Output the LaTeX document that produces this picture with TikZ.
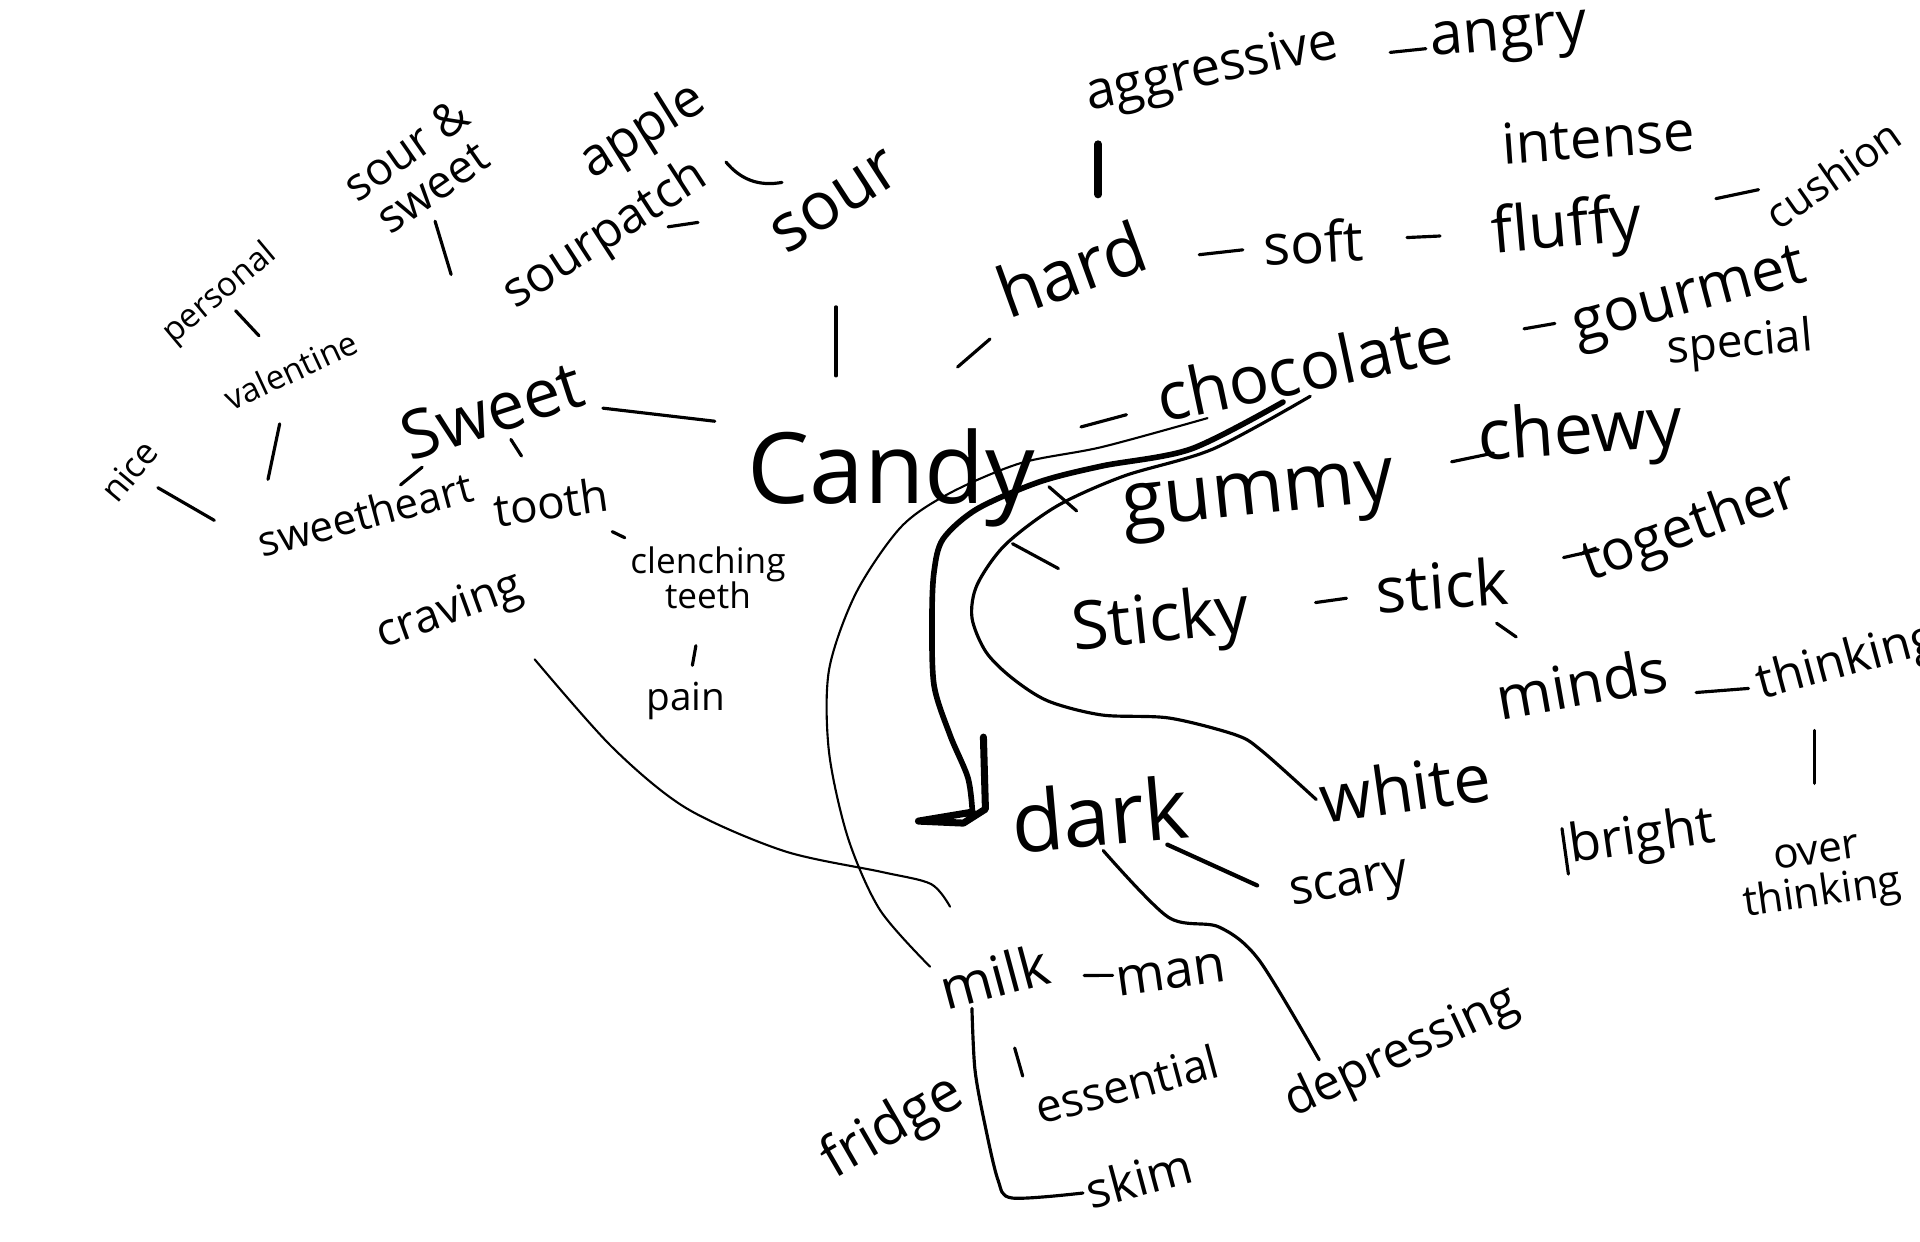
\documentclass[tikz,border=0pt]{standalone}
\usepackage{fontspec}
\setmainfont{Open Sans}
\usetikzlibrary{calc}
\tikzset{
  word/.style={font=\fontsize{#1}{#1}\selectfont, inner sep=1pt, align=center},
  word/.default=14pt,
  link/.style={line width=0.9pt, line cap=round, line join=round},
  thin link/.style={line width=0.6pt, line cap=round, line join=round},
  heavy/.style={line width=2pt, line cap=round, line join=round}
}

\begin{document}
\begin{tikzpicture}[x=0.01cm, y=-0.01cm]
  \fill[white] (0,0) rectangle (1920,1242);
  \useasboundingbox (0,0) rectangle (1920,1242);

  % centre word
  \node[word=28pt] (candy) at (891,478) {Candy};

  % sweet branch
  \node[word=19pt, rotate=18] (sweet) at (492,410) {Sweet};
  \node[word=12pt, rotate=15] (sweetheart) at (365,514) {sweetheart};
  \node[word=13pt, rotate=8] (tooth) at (551,502) {tooth};
  \node[word=10pt, rotate=50] (nice) at (129,471) {nice};
  \node[word=9.5pt, rotate=25] (valentine) at (291,370) {valentine};
  \node[word=9.5pt, rotate=40] (personal) at (220,294) {personal};
  \node[word=13pt, rotate=35] (soursweet) at (419,168) {sour \&\\sweet};
  \node[word=13pt, rotate=20] (craving) at (450,612) {craving};
  \node[word=10pt] (clenching) at (708,578) {clenching\\teeth};
  \node[word=11pt] (pain) at (686,701) {pain};

  % sour branch
  \node[word=15pt, rotate=32] (apple) at (643,132) {apple};
  \node[word=14pt, rotate=33] (sourpatch) at (606,236) {sourpatch};
  \node[word=19pt, rotate=33] (sour) at (836,202) {sour};

  % texture branch
  \node[word=20pt, rotate=20] (hard) at (1071,269) {hard};
  \node[word=16pt, rotate=3] (soft) at (1313,242) {soft};
  \node[word=18pt, rotate=5] (fluffy) at (1567,230) {fluffy};
  \node[word=12pt, rotate=35] (cushion) at (1833,174) {cushion};
  \node[word=15pt, rotate=12] (aggressive) at (1212,71) {aggressive};
  \node[word=17pt, rotate=5] (angry) at (1509,40) {angry};
  \node[word=16pt, rotate=4] (intense) at (1598,137) {intense};

  % chocolate branch
  \node[word=19pt, rotate=12] (chocolate) at (1304,367) {chocolate};
  \node[word=17pt, rotate=15] (gourmet) at (1690,300) {gourmet};
  \node[word=13pt, rotate=5] (special) at (1740,345) {special};
  \node[word=24pt, rotate=5] (dark) at (1100,814) {dark};
  \node[word=19pt, rotate=8] (white) at (1405,787) {white};
  \node[word=16pt, rotate=15] (milk) at (994,976) {milk};
  \node[word=14pt, rotate=10] (scary) at (1350,888) {scary};
  \node[word=14pt, rotate=25] (depressing) at (1402,1053) {depressing};
  \node[word=15pt, rotate=8] (man) at (1171,975) {man};
  \node[word=16pt, rotate=30] (fridge) at (893,1128) {fridge};
  \node[word=13pt, rotate=15] (essential) at (1127,1084) {essential};
  \node[word=14pt, rotate=15] (skim) at (1139,1178) {skim};

  % gummy branch
  \node[word=22pt, rotate=6] (gummy) at (1259,502) {gummy};
  \node[word=20pt, rotate=4] (chewy) at (1580,435) {chewy};
  \node[word=19pt, rotate=6] (sticky) at (1161,624) {Sticky};
  \node[word=18pt, rotate=4] (stick) at (1442,585) {stick};
  \node[word=16pt, rotate=20] (together) at (1690,529) {together};
  \node[word=17pt, rotate=10] (minds) at (1582,683) {minds};
  \node[word=14pt, rotate=15, anchor=west] (thinking) at (1754,688) {thinking};
  \node[word=12pt, rotate=8] (overthinking) at (1820,878) {over\\thinking};
  \node[word=15pt, rotate=8] (bright) at (1642,839) {bright};

  \foreach \a/\b/\p/\q in {
      candy.north west/sweet.south east/0.19/0.94,
      sweet/sweetheart/0.55/0.72,
      sweet/tooth/0.32/0.50,
      valentine/sweetheart.west/0.31/0.63,
      sweetheart.west/nice/0.32/0.77,
      valentine/personal/0.45/0.78,
      soursweet/sweet/0.22/0.44,
      tooth/clenching/0.39/0.47,
      clenching/pain/0.55/0.71,
      sour/sourpatch/0.60/0.73,
      candy.north/hard/0.37/0.55,
      hard/soft/0.53/0.71,
      soft/fluffy/0.37/0.50,
      fluffy/cushion/0.56/0.72,
      aggressive/angry/0.60/0.72,
      candy/chocolate/0.46/0.57,
      chocolate/gourmet/0.57/0.65,
      candy.east/gummy.south west/0.12/0.45,
      gummy/chewy/0.60/0.73,
      candy/sticky/0.45/0.62,
      sticky/stick/0.55/0.66,
      stick/together/0.49/0.63,
      stick/minds/0.39/0.53,
      minds.south east/thinking.west/0.26/0.93,
      milk/man/0.51/0.67,
      milk/essential.west/0.54/0.75}{%
    \draw[link] ($(\a)!\p!(\b)$) -- ($(\a)!\q!(\b)$);}

  \draw[link] ($(apple)!0.43!(sour)$) to[bend right=30] ($(apple)!0.72!(sour)$);
  \draw[link] ($(sour)!0.38!(sour |- candy)$) -- ($(sour)!0.63!(sour |- candy)$);
  \coordinate (hardtop) at ($(hard.north)!0.5!(hard.north east)$);
  \draw[heavy, line width=2.2pt] ($(hardtop)!0.25!(hardtop |- aggressive.south)$)
    -- ($(hardtop)!0.65!(hardtop |- aggressive.south)$);
  \draw[link] ($(overthinking.north)!0.44!(overthinking.north |- thinking.south west)$)
    -- ($(overthinking.north)!0.88!(overthinking.north |- thinking.south west)$);
  \draw[link] ($(bright.north west)!0.15!(bright.south west)$)
    -- ($(bright.north west)!0.9!(bright.south west)$);
  \draw[link, line width=1.2pt] ($(dark)!0.36!(scary.west)$) -- ($(dark)!0.84!(scary.west)$);
  \draw[link] plot[smooth] coordinates {(dark.south) (1168,917) (1219,927) (1259,960)
    ($(depressing.north west)!0.2!(depressing.north east)$)};
  \draw[link] plot[smooth] coordinates {($(milk.south west)!0.5!(milk.south)$)
    (975,1070) (985,1125) (998,1180) (1012,1198) (skim.west)};

  % long strokes from chocolate
  \draw[thin link] plot[smooth] coordinates {($(chocolate.south west)!0.16!(chocolate.south east)$)
    (1102,447) (1021,463) (950,493) (901,527) (856,593) (829,670) (829,752)
    (848,838) (880,910) (milk.north west)};
  \coordinate (darktip) at ($(dark.west)+(-35,-10)$);
  \draw[heavy, line width=1.6pt] plot[smooth] coordinates {($(chocolate.south west)!0.41!(chocolate.south east)$)
    (1191,449) (1102,466) (1039,482) (977,509) (943,539) (934,572) (932,618)
    (934,685) (950,735) (968,778) (darktip)};
  \draw[heavy] ($(darktip)+(11,-75)$) -- ($(darktip)+(13,-3)$) -- ($(darktip)+(-9,11)$)
    -- ($(darktip)+(-54,9)$) -- (darktip);
  \draw[link] plot[smooth] coordinates {(chocolate.south)
    (1213,449) (1124,476) (1057,506) (1005,545) (977,585) (972,618) (986,652)
    (1012,678) (1048,701) (1102,715) (1169,718) (1236,735) (1262,751) (white.west)};
  \draw[thin link] plot[smooth] coordinates {($(craving.south east)+(0,50)$)
    (612,747) (686,808) (784,851) (882,872) (931,884) ($(milk.north west)+(20,-60)$)};
\end{tikzpicture}
\end{document}
